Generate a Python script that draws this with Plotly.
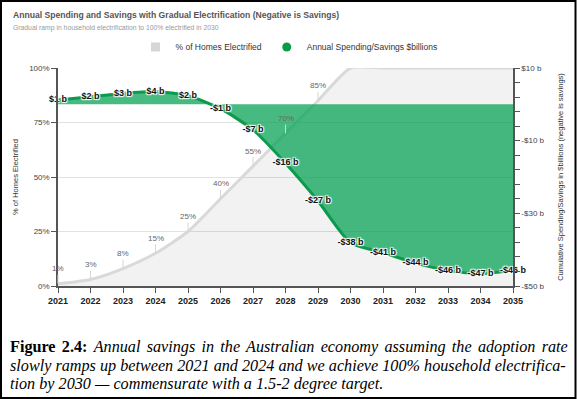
import plotly.graph_objects as go

# ---------------- data ----------------
years = [2021, 2022, 2023, 2024, 2025, 2026, 2027, 2028, 2029, 2030, 2031, 2032, 2033, 2034, 2035]
pct_electrified = [1, 3, 8, 15, 25, 40, 55, 70, 85, 100, 100, 100, 100, 100, 100]
spending_b = [1.2, 2.1, 3.0, 3.5, 2.4, -1.2, -7.0, -16.2, -26.6, -38.1, -40.8, -43.7, -45.7, -46.6, -45.8]

left_tickvals = [0, 25, 50, 75, 100]
left_ticktext = ["0%", "25%", "50%", "75%", "100%"]
right_tickvals = [10, -10, -30, -50]
right_ticktext = ["$10 b", "-$10 b", "-$30 b", "-$50 b"]
year_labels = [str(y) for y in years]

title_text = "Annual Spending and Savings with Gradual Electrification (Negative is Savings)"
subtitle_text = "Gradual ramp in household electrification to 100% electrified in 2030"
caption_lines = [
    '<span style="word-spacing:2.2px"><b>Figure 2.4:</b> <i>Annual savings in the Australian economy assuming the adoption rate</i></span>',
    "<i>slowly ramps up between 2021 and 2024 and we achieve 100% household electrifica-</i>",
    "<i>tion by 2030 \u2014 commensurate with a 1.5-2 degree target.</i>",
]

# ---------------- geometry ----------------
W, H = 577, 399
ML, MR, MT, MB = 58, 64, 68, 113
PW, PH = W - ML - MR, H - MT - MB


def px(x):
    return (x - ML) / PW


def py(y):
    return (H - MB - y) / PH


def money(v):
    r = round(v)
    return f"-${abs(r)} b" if r < 0 else f"${r} b"


GREEN_LINE = "#0c9a4c"
GREEN_FILL = "rgba(0,160,80,0.72)"
GRAY_LINE = "#d9d9d9"
GRAY_FILL = "rgba(0,0,0,0.05)"
AXIS = "#555555"
FONT = "Liberation Sans, Arial, sans-serif"

fig = go.Figure()

fig.add_trace(go.Scatter(
    x=years, y=pct_electrified, mode="lines", fill="tozeroy",
    fillcolor=GRAY_FILL, line=dict(color=GRAY_LINE, width=3, shape="spline", smoothing=0.6),
    showlegend=False, hoverinfo="skip", yaxis="y",
))

fig.add_trace(go.Scatter(
    x=years, y=spending_b, mode="lines+text", fill="tozeroy",
    fillcolor=GREEN_FILL, line=dict(color=GREEN_LINE, width=3, shape="spline", smoothing=0.6),
    text=[money(v) for v in spending_b], textposition="middle center",
    textfont=dict(family=FONT, size=9, color="#111111", weight="bold",
                  shadow="1px 1px 1px #fff, -1px -1px 1px #fff, 1px -1px 1px #fff, -1px 1px 1px #fff"),
    showlegend=False, hoverinfo="skip", yaxis="y2", cliponaxis=False,
))

# legend-only entries
fig.add_trace(go.Scatter(x=[None], y=[None], mode="markers", name="% of Homes Electrified",
                         marker=dict(symbol="square", size=9, color="#d6d6d6")))
fig.add_trace(go.Scatter(x=[None], y=[None], mode="markers", name="Annual Spending/Savings $billions",
                         marker=dict(symbol="circle", size=9, color="#0a9b48"), yaxis="y2"))

annotations = []
# percentage labels with stems
for yr, p in zip(years, pct_electrified):
    if p < 100:
        annotations.append(dict(
            x=yr, y=p, xref="x", yref="y", text=f"{p}%", showarrow=True,
            arrowhead=0, arrowwidth=1, arrowcolor="#d6d6d6", ax=0, ay=-15,
            font=dict(family=FONT, size=8, color="#666666"),
        ))

annotations.append(dict(x=px(11), y=py(15), xref="paper", yref="paper", xanchor="left", yanchor="middle",
                        text=f"<b>{title_text}</b>", showarrow=False,
                        font=dict(family=FONT, size=8.6, color="#555555")))
annotations.append(dict(x=px(11), y=py(27.5), xref="paper", yref="paper", xanchor="left", yanchor="middle",
                        text=subtitle_text, showarrow=False,
                        font=dict(family=FONT, size=6.8, color="#9a9a9a")))

for i, line in enumerate(caption_lines):
    annotations.append(dict(x=px(8), y=py(347 + i * 18.7), xref="paper", yref="paper",
                            xanchor="left", yanchor="middle", text=line, showarrow=False,
                            font=dict(family="Liberation Serif, Times New Roman, serif", size=16.2, color="#000000")))

shapes = [dict(type="rect", xref="paper", yref="paper", x0=px(1), x1=px(575.5), y0=py(1), y1=py(398),
               line=dict(color="#000000", width=2), layer="above")]

fig.update_layout(
    width=W, height=H, margin=dict(l=ML, r=MR, t=MT, b=MB),
    paper_bgcolor="white", plot_bgcolor="white",
    font=dict(family=FONT, color="#444444"),
    showlegend=True,
    legend=dict(orientation="h", x=px(289), xanchor="center", y=py(47), yanchor="middle",
                font=dict(family=FONT, size=8.5, color="#333333"), itemwidth=30,
                bgcolor="rgba(0,0,0,0)"),
    xaxis=dict(range=[2021, 2035], tickvals=years, ticktext=year_labels,
               tickfont=dict(family=FONT, size=9, color="#222222", weight="bold"),
               showgrid=False, showline=True, linecolor=AXIS, linewidth=1.5,
               ticks="outside", ticklen=5, tickcolor=AXIS, zeroline=False),
    yaxis=dict(range=[0, 100], tickvals=left_tickvals, ticktext=left_ticktext,
               tickfont=dict(family=FONT, size=8, color="#444444"),
               showgrid=True, gridcolor="#e2e2e2", gridwidth=1,
               showline=True, linecolor=AXIS, linewidth=1.5,
               ticks="outside", ticklen=5, tickcolor=AXIS, zeroline=False,
               title=dict(text="% of Homes Electrified", font=dict(family=FONT, size=7.5, color="#333333"),
                          standoff=10)),
    yaxis2=dict(range=[-50, 10], overlaying="y", side="right", tickvals=right_tickvals,
                ticktext=right_ticktext, tickfont=dict(family=FONT, size=8, color="#444444"),
                showgrid=False, showline=True, linecolor=AXIS, linewidth=1.5,
                ticks="outside", ticklen=5, tickcolor=AXIS, zeroline=False,
                minor=dict(dtick=4, tick0=10, ticks="outside", ticklen=5, tickcolor=AXIS),
                title=dict(text="Cumulative Spending/Savings in $billions (negative is savings)",
                           font=dict(family=FONT, size=7.5, color="#333333"), standoff=14)),
    annotations=annotations,
    shapes=shapes,
)

fig.write_html("out.html", config={"displayModeBar": False},
               post_script="document.body.style.margin='0px';document.body.style.overflow='hidden';")
